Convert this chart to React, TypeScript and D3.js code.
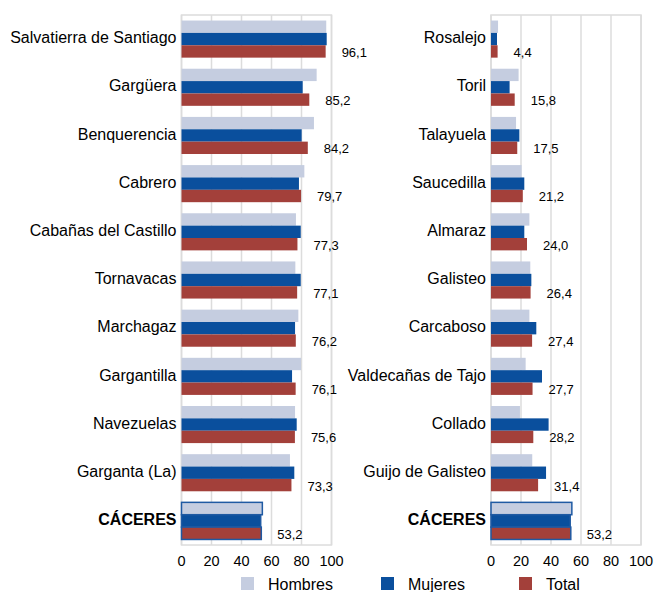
import * as d3 from 'd3';

const leftCategories = ['Salvatierra de Santiago', 'Gargüera', 'Benquerencia', 'Cabrero', 'Cabañas del Castillo', 'Tornavacas', 'Marchagaz', 'Gargantilla', 'Navezuelas', 'Garganta (La)', 'CÁCERES'];
const leftHombres = [96.5, 90.1, 88.3, 81.9, 76.3, 75.9, 77.9, 79.7, 75.7, 72.3, 53.9];
const leftMujeres = [96.8, 80.8, 80.1, 78.3, 79.5, 79.5, 75.7, 73.7, 76.8, 75.2, 52.8];
const leftTotal = [96.1, 85.2, 84.2, 79.7, 77.3, 77.1, 76.2, 76.1, 75.6, 73.3, 53.2];

const rightCategories = ['Rosalejo', 'Toril', 'Talayuela', 'Saucedilla', 'Almaraz', 'Galisteo', 'Carcaboso', 'Valdecañas de Tajo', 'Collado', 'Guijo de Galisteo', 'CÁCERES'];
const rightHombres = [4.7, 18.4, 16.7, 20.4, 25.6, 26.2, 25.6, 23.1, 19.3, 27.5, 53.9];
const rightMujeres = [4.0, 12.4, 18.9, 22.2, 22.2, 26.9, 30.2, 34.0, 38.4, 36.7, 52.8];
const rightTotal = [4.4, 15.8, 17.5, 21.2, 24.0, 26.4, 27.4, 27.7, 28.2, 31.4, 53.2];

const ticks = [0, 20, 40, 60, 80, 100];
const seriesNames = ['Hombres', 'Mujeres', 'Total'];
const colors = ['#c5cde0', '#0a4f9d', '#a3403a'];

const FONT = "'Liberation Sans', Arial, sans-serif";
const TOP = 15;
const BOTTOM = 545;

interface PanelProps {
  categories: string[];
  hombres: number[];
  mujeres: number[];
  total: number[];
  left: number;
}

function Panel({ categories, hombres, mujeres, total, left }: PanelProps) {
  const x = d3.scaleLinear().domain([0, 100]).range([left, left + 150]);
  const y = d3.scaleBand<string>().domain(categories).range([TOP, BOTTOM]).paddingInner(0.23).paddingOuter(0.115);
  const sub = d3.scaleBand<string>().domain(seriesNames).range([0, y.bandwidth()]);
  const series = [hombres, mujeres, total];

  return (
    <g>
      <rect x={x(0)} y={TOP} width={x(100) - x(0)} height={BOTTOM - TOP} fill="#fff" stroke="#dcdcdc" strokeWidth={1.5} />
      {ticks.map(t => (
        <line key={t} x1={x(t)} x2={x(t)} y1={TOP} y2={BOTTOM} stroke="#dcdcdc" strokeWidth={1.5} />
      ))}
      {categories.map((c, i) => {
        const y0 = y(c) ?? 0;
        const isTotal = c === 'CÁCERES';
        return (
          <g key={c}>
            {series.map((s, k) => (
              <rect
                key={k}
                x={x(0)}
                y={y0 + (sub(seriesNames[k]) ?? 0)}
                width={x(s[i]) - x(0)}
                height={sub.bandwidth()}
                fill={colors[k]}
                stroke={isTotal ? '#1f5aa3' : 'none'}
                strokeWidth={isTotal ? 1.5 : 0}
              />
            ))}
            <text
              x={left - 5}
              y={y0 + y.bandwidth() / 2}
              textAnchor="end"
              dominantBaseline="middle"
              fontFamily={FONT}
              fontSize={16}
              fontWeight={isTotal ? 'bold' : 'normal'}
              fill="#000"
            >
              {c}
            </text>
            <text
              x={x(total[i]) + 16}
              y={y0 + (sub('Total') ?? 0) + sub.bandwidth() / 2 + 2}
              dominantBaseline="middle"
              fontFamily={FONT}
              fontSize={13}
              fill="#000"
            >
              {total[i].toFixed(1).replace('.', ',')}
            </text>
          </g>
        );
      })}
      {ticks.map(t => (
        <text key={t} x={x(t)} y={566} textAnchor="middle" fontFamily={FONT} fontSize={14.5} fill="#000">
          {t}
        </text>
      ))}
    </g>
  );
}

const legendX = [241, 381, 519];

export default function App() {
  return (
    <svg width={657} height={592} style={{ position: 'absolute', left: 0, top: 0, background: '#fff' }}>
      <Panel categories={leftCategories} hombres={leftHombres} mujeres={leftMujeres} total={leftTotal} left={181.5} />
      <Panel categories={rightCategories} hombres={rightHombres} mujeres={rightMujeres} total={rightTotal} left={491} />
      {seriesNames.map((s, k) => (
        <g key={s}>
          <rect x={legendX[k]} y={577} width={13} height={13} fill={colors[k]} />
          <text x={legendX[k] + 27} y={590} fontFamily={FONT} fontSize={16} fill="#000">
            {s}
          </text>
        </g>
      ))}
    </svg>
  );
}
